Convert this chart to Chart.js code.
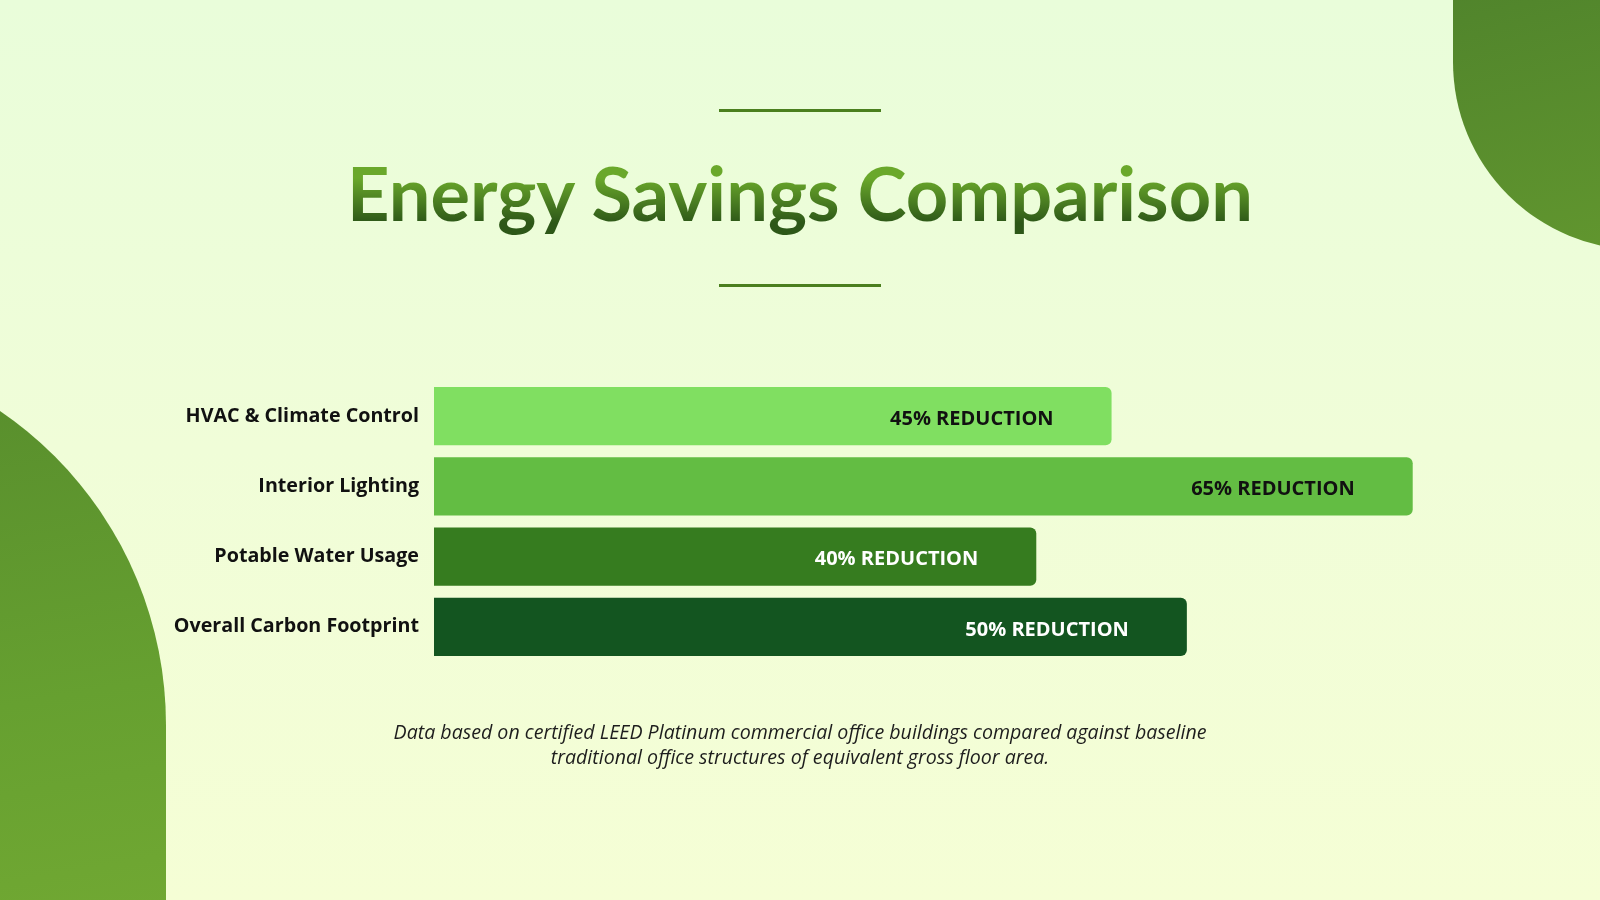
<!DOCTYPE html>
<html>
<head>
<meta charset="utf-8">
<script src="https://cdn.jsdelivr.net/npm/chart.js@4.4.1/dist/chart.umd.min.js"></script>
<style>
  html, body { margin: 0; padding: 0; }
  body {
    width: 1600px;
    height: 900px;
    overflow: hidden;
    position: relative;
    background: linear-gradient(180deg, #e9fdda 0%, #f0fdd8 50%, #f5fed5 100%);
    font-family: "Open Sans", sans-serif;
  }
  .blob-tr {
    position: absolute;
    left: 1453px;
    top: -300px;
    width: 360px;
    height: 550px;
    border-bottom-left-radius: 188px;
    background: linear-gradient(165deg, #44722a 0%, #52862c 50%, #64992f 100%);
  }
  .blob-bl {
    position: absolute;
    left: -214px;
    top: 345px;
    width: 380px;
    height: 600px;
    border-top-right-radius: 380px;
    background: linear-gradient(170deg, #558a2c 0%, #66a030 60%, #72a933 100%);
  }
  .rule {
    position: absolute;
    left: 719px;
    width: 162px;
    height: 3px;
    background: #4b7f1e;
  }
  h1 {
    position: absolute;
    left: 0;
    top: 143px;
    width: 1600px;
    margin: 0;
    text-align: center;
    font-family: "Lato", sans-serif;
    font-weight: 700;
    font-size: 74px;
    line-height: 100px;
    background: linear-gradient(180deg, #6aa82b 35%, #2d5718 80%);
    -webkit-background-clip: text;
    background-clip: text;
    color: transparent;
  }
  .note {
    position: absolute;
    left: 0;
    top: 720px;
    width: 1600px;
    text-align: center;
    font-family: "Open Sans", sans-serif;
    font-style: italic;
    font-size: 19.6px;
    line-height: 24.5px;
    color: #1d1d1d;
  }
  #chartBox {
    position: absolute;
    left: 0;
    top: 0;
    width: 1600px;
    height: 900px;
  }
</style>
</head>
<body>
<div class="blob-tr"></div>
<div class="blob-bl"></div>
<div class="rule" style="top:109px"></div>
<h1>Energy Savings Comparison</h1>
<div class="rule" style="top:284px"></div>
<div id="chartBox"><canvas id="myChart"></canvas></div>
<div class="note">Data based on certified LEED Platinum commercial office buildings compared against baseline<br>traditional office structures of equivalent gross floor area.</div>

<script>
const categories = ["HVAC & Climate Control", "Interior Lighting", "Potable Water Usage", "Overall Carbon Footprint"];
const reductions = [45, 65, 40, 50];
const barColors = ["#80df61", "#63bd43", "#367c1f", "#135520"];
const textColors = ["#111111", "#111111", "#ffffff", "#ffffff"];

// writes "NN% REDUCTION" inside each bar, near its end
const barText = {
  id: "barText",
  afterDatasetsDraw(chart) {
    const ctx = chart.ctx;
    const meta = chart.getDatasetMeta(0);
    ctx.save();
    ctx.font = "700 20px 'Open Sans', sans-serif";
    ctx.textAlign = "right";
    ctx.textBaseline = "middle";
    meta.data.forEach((bar, i) => {
      ctx.fillStyle = textColors[i];
      ctx.fillText(reductions[i] + "% REDUCTION", bar.x - 58, bar.y + 3);
    });
    ctx.restore();
  }
};

const myChart = document.getElementById("myChart");

new Chart(myChart, {
  type: "bar",
  data: {
    labels: categories,
    datasets: [
      {
        data: reductions,
        backgroundColor: barColors,
        borderRadius: 6,
        borderSkipped: "start",
        barPercentage: 0.83,
        categoryPercentage: 1
      }
    ]
  },
  options: {
    indexAxis: "y",
    responsive: true,
    maintainAspectRatio: false,
    animation: false,
    layout: { padding: { top: 381, bottom: 238, left: 0, right: 112 } },
    plugins: {
      legend: { display: false },
      tooltip: { enabled: false }
    },
    scales: {
      x: {
        display: false,
        min: 0,
        max: 70
      },
      y: {
        afterFit: (scale) => { scale.width = 434; },
        border: { display: false },
        grid: { display: false, drawTicks: false },
        ticks: {
          padding: 15,
          color: "#111111",
          font: { family: "'Open Sans', sans-serif", size: 19.7, weight: "700" }
        }
      }
    }
  },
  plugins: [barText]
});
</script>
</body>
</html>
